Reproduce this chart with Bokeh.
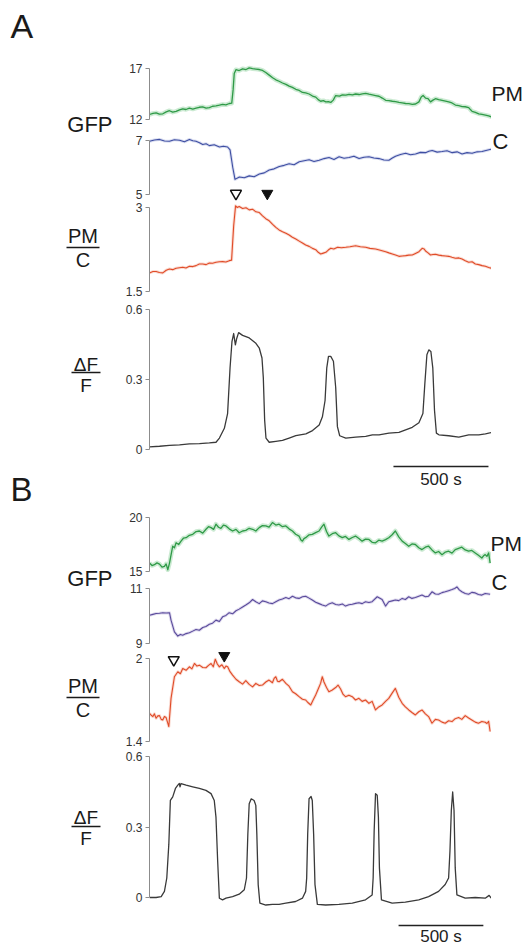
from bokeh.plotting import figure
from bokeh.layouts import row, column
from bokeh.models import Range1d, FixedTicker, NumeralTickFormatter
from bokeh.core.properties import value
from bokeh.embed import file_html
from bokeh.resources import INLINE

FONT = "Liberation Sans"

# ---------------- Panel A data (time in s) ----------------
a_pm_t = [0, 18, 35, 52, 70, 88, 105, 122, 140, 158, 175, 192, 210, 228, 245, 262, 280, 298, 315, 332, 350, 368, 385, 402, 420, 433, 440, 446, 455, 472, 490, 508, 525, 542, 560, 578, 595, 612, 630, 648, 665, 682, 700, 718, 735, 752, 770, 788, 805, 822, 840, 858, 875, 888, 901, 915, 928, 941, 954, 967, 980, 1000, 1015, 1033, 1050, 1068, 1085, 1103, 1120, 1138, 1155, 1173, 1190, 1208, 1225, 1243, 1260, 1278, 1295, 1313, 1330, 1348, 1365, 1383, 1400, 1418, 1430, 1440, 1453, 1466, 1479, 1492, 1505, 1522, 1540, 1558, 1575, 1592, 1610, 1628, 1645, 1662, 1680, 1690, 1698, 1715, 1733, 1750, 1768, 1785, 1800]
a_pm_v = [12.49, 12.60, 12.65, 12.52, 12.56, 12.75, 12.86, 12.72, 12.80, 12.95, 13.05, 12.98, 13.11, 13.02, 13.11, 13.20, 13.24, 13.12, 13.17, 13.30, 13.33, 13.40, 13.48, 13.44, 13.57, 13.60, 14.90, 16.51, 16.88, 16.80, 16.97, 16.90, 17.06, 16.98, 16.94, 16.90, 16.81, 16.60, 16.35, 16.10, 15.89, 15.75, 15.58, 15.45, 15.27, 15.15, 14.96, 14.85, 14.65, 14.60, 14.50, 14.30, 14.19, 13.95, 13.79, 13.85, 13.73, 13.76, 13.67, 13.90, 14.35, 14.30, 14.41, 14.38, 14.47, 14.42, 14.50, 14.45, 14.52, 14.56, 14.48, 14.41, 14.35, 14.28, 14.10, 13.88, 13.85, 13.79, 13.75, 13.67, 13.62, 13.57, 13.55, 13.48, 13.52, 13.73, 14.20, 14.35, 14.10, 14.05, 13.73, 13.90, 14.04, 13.95, 13.88, 13.80, 13.73, 13.62, 13.42, 13.35, 13.27, 13.25, 13.17, 12.95, 12.80, 12.70, 12.56, 12.50, 12.43, 12.35, 12.25]

a_c_t = [0, 26, 53, 79, 105, 131, 158, 184, 210, 228, 245, 263, 280, 298, 315, 341, 368, 389, 411, 424, 438, 450, 473, 499, 525, 551, 578, 604, 630, 656, 683, 709, 735, 761, 788, 814, 840, 866, 893, 919, 945, 971, 998, 1024, 1050, 1076, 1103, 1129, 1155, 1181, 1208, 1234, 1260, 1278, 1295, 1321, 1348, 1374, 1400, 1426, 1453, 1470, 1488, 1514, 1540, 1566, 1593, 1619, 1645, 1671, 1698, 1724, 1750, 1776, 1800]
a_c_v = [6.97, 7.02, 7.04, 6.98, 6.97, 7.03, 7.01, 6.95, 7.04, 6.99, 6.97, 6.92, 6.85, 6.88, 6.81, 6.84, 6.76, 6.79, 6.76, 6.65, 6.01, 5.56, 5.65, 5.62, 5.69, 5.66, 5.76, 5.80, 5.91, 5.95, 6.04, 6.08, 6.14, 6.10, 6.21, 6.25, 6.29, 6.22, 6.27, 6.33, 6.37, 6.30, 6.40, 6.34, 6.37, 6.42, 6.33, 6.38, 6.40, 6.35, 6.33, 6.28, 6.27, 6.35, 6.42, 6.48, 6.53, 6.47, 6.50, 6.56, 6.55, 6.60, 6.63, 6.57, 6.59, 6.62, 6.55, 6.58, 6.50, 6.55, 6.53, 6.58, 6.59, 6.64, 6.68]

a_ratio_t = [0, 18, 35, 52, 70, 88, 105, 122, 140, 158, 175, 192, 210, 228, 245, 262, 280, 298, 315, 332, 350, 368, 385, 402, 420, 432, 443, 453, 462, 472, 490, 508, 525, 542, 560, 578, 595, 612, 630, 648, 665, 682, 700, 718, 735, 752, 770, 788, 805, 822, 840, 858, 875, 888, 901, 915, 928, 941, 954, 970, 990, 1010, 1033, 1055, 1085, 1110, 1138, 1160, 1190, 1210, 1243, 1260, 1278, 1295, 1313, 1330, 1348, 1365, 1383, 1400, 1418, 1435, 1445, 1453, 1466, 1479, 1492, 1505, 1522, 1540, 1558, 1575, 1592, 1610, 1628, 1645, 1662, 1680, 1698, 1715, 1733, 1750, 1768, 1785, 1800]
a_ratio_v = [1.832, 1.856, 1.856, 1.840, 1.832, 1.880, 1.903, 1.890, 1.915, 1.925, 1.933, 1.920, 1.951, 1.945, 1.962, 1.990, 1.992, 1.980, 2.010, 2.005, 2.022, 2.030, 2.034, 2.028, 2.051, 2.060, 2.674, 3.030, 3.000, 3.018, 2.982, 2.995, 2.958, 2.970, 2.923, 2.910, 2.852, 2.800, 2.763, 2.700, 2.644, 2.600, 2.567, 2.540, 2.508, 2.470, 2.437, 2.400, 2.366, 2.330, 2.306, 2.270, 2.247, 2.200, 2.170, 2.185, 2.200, 2.240, 2.271, 2.260, 2.289, 2.280, 2.289, 2.300, 2.318, 2.300, 2.289, 2.270, 2.259, 2.240, 2.211, 2.190, 2.170, 2.150, 2.128, 2.135, 2.140, 2.150, 2.152, 2.180, 2.211, 2.271, 2.260, 2.223, 2.190, 2.152, 2.160, 2.164, 2.150, 2.140, 2.135, 2.128, 2.110, 2.093, 2.100, 2.081, 2.050, 2.022, 2.030, 1.992, 1.980, 1.962, 1.950, 1.930, 1.915]

a_dff_t = [0, 53, 105, 158, 210, 263, 315, 350, 368, 394, 411, 424, 434, 443, 452, 459, 469, 490, 525, 560, 578, 592, 599, 606, 613, 630, 665, 700, 735, 770, 823, 858, 893, 910, 924, 933, 942, 954, 968, 980, 989, 1001, 1033, 1085, 1138, 1173, 1208, 1260, 1313, 1348, 1383, 1418, 1439, 1449, 1460, 1470, 1481, 1491, 1500, 1510, 1523, 1575, 1628, 1680, 1733, 1768, 1800]
a_dff_v = [0.011, 0.014, 0.018, 0.020, 0.024, 0.025, 0.028, 0.031, 0.049, 0.091, 0.154, 0.350, 0.462, 0.497, 0.448, 0.476, 0.501, 0.489, 0.478, 0.455, 0.434, 0.392, 0.308, 0.126, 0.049, 0.031, 0.035, 0.039, 0.049, 0.059, 0.067, 0.081, 0.105, 0.140, 0.210, 0.350, 0.399, 0.399, 0.378, 0.266, 0.098, 0.059, 0.049, 0.053, 0.056, 0.063, 0.063, 0.070, 0.073, 0.084, 0.095, 0.115, 0.154, 0.280, 0.406, 0.427, 0.420, 0.350, 0.168, 0.070, 0.063, 0.059, 0.053, 0.063, 0.063, 0.067, 0.073]

a_open_t, a_filled_t = [455], [620]

# ---------------- Panel B data (time in s) ----------------
b_pm_t = [0, 15, 29, 44, 59, 74, 88, 98, 108, 118, 137, 147, 157, 172, 186, 201, 216, 235, 255, 275, 294, 314, 333, 348, 363, 378, 392, 407, 421, 436, 451, 470, 490, 510, 529, 549, 568, 588, 608, 627, 647, 666, 686, 705, 725, 745, 764, 784, 804, 823, 843, 862, 882, 892, 902, 911, 921, 941, 960, 980, 1000, 1015, 1029, 1044, 1058, 1078, 1098, 1117, 1137, 1156, 1176, 1196, 1215, 1235, 1254, 1274, 1294, 1313, 1333, 1352, 1372, 1392, 1411, 1431, 1450, 1470, 1490, 1509, 1529, 1548, 1568, 1588, 1607, 1627, 1646, 1666, 1686, 1705, 1725, 1745, 1764, 1784, 1803, 1823, 1842, 1862, 1882, 1901, 1921, 1940, 1960, 1970, 1980, 1990, 2000, 2009]
b_pm_v = [15.78, 15.55, 15.63, 15.80, 15.69, 15.40, 15.47, 15.70, 15.16, 15.78, 17.34, 17.20, 17.66, 17.50, 17.81, 18.10, 18.13, 18.35, 18.44, 18.70, 18.75, 18.55, 18.91, 19.15, 19.06, 18.90, 19.38, 19.10, 19.00, 19.30, 19.22, 18.95, 18.75, 18.90, 18.59, 18.75, 18.81, 19.00, 18.91, 18.75, 19.06, 19.25, 19.22, 19.10, 19.53, 19.30, 19.38, 19.15, 19.22, 18.95, 18.75, 18.45, 18.28, 17.95, 17.81, 18.05, 18.13, 18.40, 18.44, 18.60, 18.75, 19.10, 19.38, 18.70, 18.28, 18.50, 18.59, 18.30, 18.13, 18.25, 17.97, 18.15, 18.28, 18.05, 17.81, 18.00, 17.97, 17.70, 17.66, 17.90, 17.81, 17.95, 18.13, 18.40, 18.75, 18.20, 17.81, 17.60, 17.34, 17.55, 17.50, 17.20, 17.03, 17.25, 17.34, 17.00, 16.72, 16.85, 16.56, 16.80, 16.88, 16.70, 17.03, 17.15, 17.25, 17.00, 16.88, 16.95, 16.72, 16.50, 16.25, 16.45, 16.56, 16.40, 16.72, 15.78]

b_c_t = [0, 20, 39, 59, 78, 98, 118, 127, 147, 167, 182, 196, 216, 235, 255, 274, 294, 314, 333, 353, 372, 392, 412, 431, 451, 470, 490, 510, 529, 549, 568, 588, 608, 627, 647, 666, 686, 705, 725, 745, 764, 784, 804, 823, 843, 862, 882, 902, 921, 941, 960, 980, 1000, 1019, 1039, 1058, 1078, 1098, 1117, 1137, 1156, 1176, 1196, 1215, 1235, 1254, 1274, 1294, 1313, 1343, 1372, 1392, 1411, 1431, 1450, 1470, 1490, 1509, 1529, 1548, 1568, 1588, 1607, 1627, 1646, 1666, 1686, 1705, 1725, 1744, 1764, 1784, 1800, 1813, 1827, 1842, 1862, 1882, 1901, 1921, 1940, 1960, 1980, 2009]
b_c_v = [10.03, 10.06, 10.09, 10.10, 10.12, 10.11, 10.12, 9.85, 9.42, 9.27, 9.33, 9.30, 9.36, 9.39, 9.45, 9.51, 9.48, 9.58, 9.62, 9.70, 9.74, 9.85, 9.80, 9.97, 10.02, 10.12, 10.08, 10.19, 10.25, 10.33, 10.40, 10.48, 10.60, 10.52, 10.45, 10.55, 10.52, 10.47, 10.45, 10.52, 10.58, 10.62, 10.67, 10.63, 10.72, 10.66, 10.64, 10.70, 10.72, 10.65, 10.58, 10.50, 10.45, 10.40, 10.36, 10.44, 10.48, 10.42, 10.40, 10.44, 10.36, 10.41, 10.43, 10.46, 10.48, 10.45, 10.52, 10.49, 10.52, 10.70, 10.60, 10.36, 10.52, 10.55, 10.58, 10.56, 10.64, 10.60, 10.70, 10.64, 10.67, 10.72, 10.76, 10.70, 10.72, 10.88, 10.80, 10.79, 10.85, 10.88, 10.92, 10.96, 11.00, 11.06, 10.95, 10.88, 10.82, 10.79, 10.86, 10.84, 10.78, 10.76, 10.82, 10.79]

b_ratio_t = [0, 10, 20, 29, 39, 49, 59, 69, 78, 88, 98, 106, 114, 127, 147, 167, 182, 196, 216, 235, 250, 265, 280, 294, 314, 333, 348, 363, 376, 388, 400, 412, 427, 441, 451, 461, 475, 490, 510, 529, 549, 568, 588, 608, 627, 647, 666, 686, 705, 725, 735, 745, 755, 764, 784, 804, 823, 843, 862, 882, 902, 921, 936, 951, 965, 980, 995, 1009, 1019, 1029, 1044, 1058, 1078, 1098, 1112, 1127, 1142, 1156, 1176, 1196, 1215, 1235, 1254, 1274, 1294, 1313, 1333, 1352, 1372, 1392, 1411, 1431, 1450, 1470, 1490, 1509, 1529, 1548, 1568, 1588, 1607, 1627, 1646, 1666, 1686, 1705, 1725, 1744, 1764, 1784, 1803, 1823, 1842, 1862, 1882, 1901, 1921, 1940, 1960, 1980, 1990, 2000, 2009]
b_ratio_v = [1.604, 1.590, 1.580, 1.600, 1.568, 1.585, 1.587, 1.560, 1.556, 1.580, 1.573, 1.540, 1.508, 1.712, 1.868, 1.904, 1.890, 1.928, 1.915, 1.940, 1.925, 1.964, 1.945, 1.952, 1.935, 1.933, 1.950, 1.964, 1.940, 1.995, 1.960, 1.940, 1.955, 1.928, 1.945, 1.940, 1.905, 1.880, 1.850, 1.832, 1.815, 1.840, 1.813, 1.795, 1.820, 1.805, 1.808, 1.830, 1.844, 1.825, 1.856, 1.868, 1.835, 1.832, 1.850, 1.820, 1.800, 1.760, 1.745, 1.724, 1.705, 1.700, 1.680, 1.664, 1.700, 1.736, 1.780, 1.820, 1.868, 1.830, 1.790, 1.760, 1.772, 1.790, 1.808, 1.780, 1.740, 1.724, 1.735, 1.724, 1.700, 1.712, 1.690, 1.700, 1.676, 1.690, 1.628, 1.650, 1.664, 1.690, 1.712, 1.750, 1.784, 1.720, 1.676, 1.650, 1.628, 1.610, 1.592, 1.615, 1.628, 1.600, 1.580, 1.532, 1.560, 1.556, 1.540, 1.532, 1.550, 1.544, 1.565, 1.573, 1.560, 1.587, 1.570, 1.556, 1.540, 1.532, 1.545, 1.539, 1.530, 1.545, 1.472]

b_dff_t = [0, 39, 69, 88, 102, 114, 123, 137, 153, 167, 176, 180, 186, 216, 255, 294, 333, 363, 382, 392, 402, 412, 431, 451, 490, 529, 559, 572, 580, 588, 600, 617, 627, 633, 641, 651, 686, 725, 764, 804, 862, 902, 921, 927, 933, 941, 953, 960, 968, 976, 990, 1039, 1117, 1196, 1274, 1313, 1319, 1325, 1333, 1343, 1350, 1356, 1368, 1431, 1509, 1588, 1646, 1705, 1744, 1764, 1772, 1780, 1788, 1796, 1803, 1813, 1862, 1921, 1980, 2003, 2015]
b_dff_v = [0.000, 0.000, 0.004, 0.026, 0.083, 0.227, 0.413, 0.428, 0.464, 0.478, 0.485, 0.471, 0.485, 0.478, 0.471, 0.464, 0.456, 0.442, 0.413, 0.342, 0.155, -0.003, -0.010, -0.003, 0.004, 0.014, 0.033, 0.083, 0.270, 0.399, 0.420, 0.413, 0.392, 0.270, 0.055, -0.024, -0.032, -0.029, -0.029, -0.024, -0.017, -0.003, 0.026, 0.083, 0.270, 0.420, 0.430, 0.413, 0.270, 0.055, -0.029, -0.032, -0.029, -0.024, -0.010, 0.011, 0.083, 0.284, 0.442, 0.435, 0.342, 0.126, -0.010, -0.024, -0.020, -0.010, 0.004, 0.026, 0.055, 0.083, 0.198, 0.370, 0.449, 0.370, 0.126, 0.011, -0.003, 0.000, -0.003, 0.009, -0.003]

b_open_t, b_open_v = [143], [1.99]
b_filled_t, b_filled_v = [441], [2.02]

# axis ticks
A_PM_TICKS = [12, 17]
A_C_TICKS = [5, 7]
A_RATIO_TICKS = [1.5, 3]
DFF_TICKS = [0, 0.3, 0.6]
B_PM_TICKS = [15, 20]
B_C_TICKS = [9, 11]
B_RATIO_TICKS = [1.4, 2]
SCALE_BAR_S = 500
A_T_END = 1800
B_T_END = 2017

# ---------------- layout helpers (page pixel geometry) ----------------
PAGE_W, PAGE_H = 527, 946
LEFT_W = 120
RIGHT_W = 36
TRACE_W = PAGE_W - LEFT_W - RIGHT_W
LEFT_BORDER = 29


def yscale(top, bot, v_hi, y_hi, v_lo, y_lo):
    k = (y_lo - y_hi) / (v_hi - v_lo)
    rng = Range1d(v_lo - (bot - y_lo) / k, v_hi + (y_hi - top) / k)
    return rng, (lambda py: v_hi - (py - y_hi) / k)


def trace_fig(top, bot, t_end, ticks, y_hi, y_lo):
    rng, to_val = yscale(top, bot, max(ticks), y_hi, min(ticks), y_lo)
    p = figure(width=TRACE_W, height=bot - top, x_range=Range1d(0, t_end), y_range=rng,
               x_axis_location=None, y_axis_location="left",
               output_backend="svg", toolbar_location=None,
               min_border_left=LEFT_BORDER, min_border_right=0, min_border_top=0, min_border_bottom=0)
    p.outline_line_color = None
    p.xgrid.visible = False
    p.ygrid.visible = False
    ax = p.yaxis[0]
    ax.ticker = FixedTicker(ticks=ticks)
    ax.bounds = (min(ticks), max(ticks))
    ax.formatter = NumeralTickFormatter(format="0.[0]")
    ax.axis_line_color = "#8c8c8c"
    ax.major_tick_line_color = "#8c8c8c"
    ax.major_tick_out = 4
    ax.major_tick_in = 0
    ax.minor_tick_line_color = None
    ax.major_label_text_font = FONT
    ax.major_label_text_font_size = "12px"
    ax.major_label_text_color = "#333333"
    ax.major_label_standoff = 3
    return p, to_val


def glow_line(p, t, v, core, halo, halo_w=4.0, core_w=1.2):
    p.line(t, v, line_color=halo, line_width=halo_w, line_alpha=0.6, line_join="round")
    p.line(t, v, line_color=core, line_width=core_w, line_join="round")


# ---------------- Panel A ----------------
a_pm, _ = trace_fig(0, 129, A_T_END, A_PM_TICKS, 68, 119)
glow_line(a_pm, a_pm_t, a_pm_v, "#2f9a47", "#a9dcb4", 4.5, 1.3)

a_c, a_c_val = trace_fig(129, 202, A_T_END, A_C_TICKS, 140, 194)
glow_line(a_c, a_c_t, a_c_v, "#3e4ea2", "#c0c6e6", 3.0, 1.1)
a_c.scatter(a_open_t, [a_c_val(193)], marker="inverted_triangle", size=11,
            fill_color="white", line_color="#111111", line_width=1.5)
a_c.scatter(a_filled_t, [a_c_val(193)], marker="inverted_triangle", size=11,
            fill_color="#111111", line_color="#111111")

a_ratio, _ = trace_fig(202, 300, A_T_END, A_RATIO_TICKS, 207, 291)
glow_line(a_ratio, a_ratio_t, a_ratio_v, "#e04b28", "#f6c3b4", 3.0, 1.1)

a_dff, a_dff_val = trace_fig(300, 505, A_T_END, DFF_TICKS, 309, 449)
a_dff.line(a_dff_t, a_dff_v, line_color="#3a3a3a", line_width=1.3, line_join="round")
a_bar_x0 = A_T_END - 516
a_dff.segment(x0=[a_bar_x0], x1=[a_bar_x0 + SCALE_BAR_S], y0=[a_dff_val(466)], y1=[a_dff_val(466)],
              line_color="#222222", line_width=1.6)
a_dff.text(x=[a_bar_x0 + SCALE_BAR_S / 2], y=[a_dff_val(479)], text=[f"{SCALE_BAR_S} s"],
           text_font=value(FONT), text_font_size="17px", text_align="center",
           text_baseline="middle", text_color="#222222")

# ---------------- Panel B ----------------
b_pm, _ = trace_fig(505, 580, B_T_END, B_PM_TICKS, 517, 571)
glow_line(b_pm, b_pm_t, b_pm_v, "#2f9a47", "#a9dcb4", 4.5, 1.3)

b_c, _ = trace_fig(580, 651, B_T_END, B_C_TICKS, 588, 643)
glow_line(b_c, b_c_t, b_c_v, "#5a4b9b", "#c9c2e2", 3.0, 1.1)

b_ratio, _ = trace_fig(651, 749, B_T_END, B_RATIO_TICKS, 658, 741)
glow_line(b_ratio, b_ratio_t, b_ratio_v, "#e04b28", "#f6c3b4", 3.0, 1.1)
b_ratio.scatter(b_open_t, b_open_v, marker="inverted_triangle", size=11,
                fill_color="white", line_color="#111111", line_width=1.5)
b_ratio.scatter(b_filled_t, b_filled_v, marker="inverted_triangle", size=11,
                fill_color="#111111", line_color="#111111")

b_dff, b_dff_val = trace_fig(749, PAGE_H, B_T_END, DFF_TICKS, 756, 897)
b_dff.line(b_dff_t, b_dff_v, line_color="#3a3a3a", line_width=1.3, line_join="round")
b_bar_x0 = B_T_END - 548
b_dff.segment(x0=[b_bar_x0], x1=[b_bar_x0 + SCALE_BAR_S], y0=[b_dff_val(925)], y1=[b_dff_val(925)],
              line_color="#222222", line_width=1.6)
b_dff.text(x=[b_bar_x0 + SCALE_BAR_S / 2], y=[b_dff_val(936)], text=[f"{SCALE_BAR_S} s"],
           text_font=value(FONT), text_font_size="17px", text_align="center",
           text_baseline="middle", text_color="#222222")

traces = column(a_pm, a_c, a_ratio, a_dff, b_pm, b_c, b_ratio, b_dff, spacing=0)


# ---------------- label columns (coordinates = page pixels) ----------------
def label_fig(w):
    p = figure(width=w, height=PAGE_H, x_range=Range1d(0, w), y_range=Range1d(PAGE_H, 0),
               x_axis_location=None, y_axis_location=None, output_backend="svg",
               toolbar_location=None, min_border=0)
    p.outline_line_color = None
    p.xgrid.visible = False
    p.ygrid.visible = False
    return p


def add_text(p, x, y, txt, size, align="left", color="#1a1a1a"):
    p.text(x=[x], y=[y], text=[txt], text_font=value(FONT), text_font_size=size,
           text_align=align, text_baseline="middle", text_color=color)


def add_fraction(p, xc, y_top, ybar, y_bot, top, bottom, half_w, size):
    add_text(p, xc, y_top, top, size, align="center")
    add_text(p, xc, y_bot, bottom, size, align="center")
    p.segment(x0=[xc - half_w], x1=[xc + half_w], y0=[ybar], y1=[ybar],
              line_color="#1a1a1a", line_width=1.3)


left = label_fig(LEFT_W)
add_text(left, 10, 25, "A", "34px")
add_text(left, 10, 489, "B", "33px")
add_text(left, 112, 124, "GFP", "22px", align="right")
add_text(left, 112, 578, "GFP", "22px", align="right")
add_fraction(left, 82.5, 235, 247, 259, "PM", "C", 16.5, "20px")
add_fraction(left, 82.5, 685, 697, 709, "PM", "C", 16.5, "20px")
add_fraction(left, 85.5, 364, 372, 385, "ΔF", "F", 14.5, "19px")
add_fraction(left, 85.5, 817, 826, 838, "ΔF", "F", 14.5, "19px")

right = label_fig(RIGHT_W)
add_text(right, 0, 93, "PM", "21px")
add_text(right, 1, 141, "C", "22px")
add_text(right, -1, 543, "PM", "21px")
add_text(right, 0, 582, "C", "22px")

page = row(left, traces, right, spacing=0)

open("out.html", "w").write(file_html(page, INLINE))
